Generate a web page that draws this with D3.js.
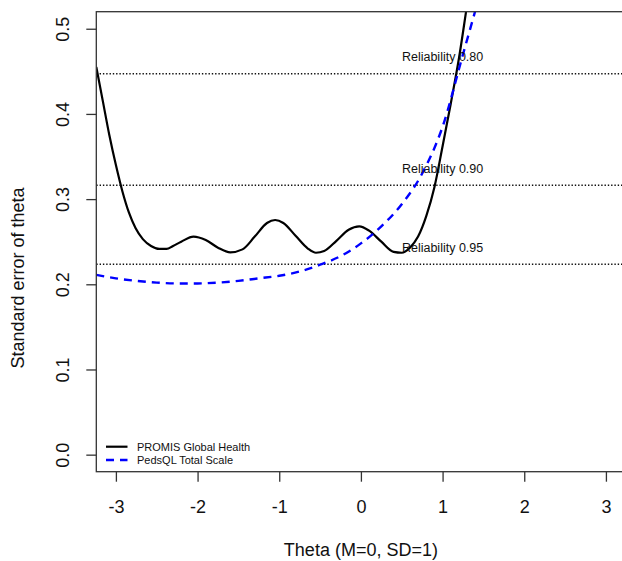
<!DOCTYPE html>
<html>
<head>
<meta charset="utf-8">
<script src="https://cdn.jsdelivr.net/npm/d3@7"></script>
<style>
  html, body { margin: 0; padding: 0; background: #fff; }
  svg { display: block; font-family: "Liberation Sans", Arial, sans-serif; }
</style>
</head>
<body>
<svg id="chart" width="622" height="561"></svg>
<script>
// ---- Data ----
const xTicks = [-3, -2, -1, 0, 1, 2, 3];
const yTicks = [0.0, 0.1, 0.2, 0.3, 0.4, 0.5];
const yTickLabels = ["0.0", "0.1", "0.2", "0.3", "0.4", "0.5"];

const promisTheta = [-3.24, -3.16, -3.08, -3.0, -2.92, -2.84, -2.76, -2.67, -2.57, -2.47, -2.38, -2.3, -2.2, -2.05, -1.9, -1.75, -1.6, -1.45, -1.3, -1.15, -1.05, -0.95, -0.8, -0.65, -0.55, -0.45, -0.3, -0.15, -0.02, 0.1, 0.25, 0.4, 0.5, 0.6, 0.7, 0.8, 0.9, 1.0, 1.1, 1.2, 1.3, 1.4];
const promisSE    = [0.455, 0.415, 0.375, 0.340, 0.309, 0.284, 0.266, 0.253, 0.245, 0.2415, 0.2415, 0.245, 0.250, 0.256, 0.252, 0.243, 0.2375, 0.241, 0.256, 0.272, 0.2755, 0.272, 0.257, 0.242, 0.237, 0.239, 0.251, 0.264, 0.268, 0.263, 0.250, 0.238, 0.237, 0.243, 0.256, 0.280, 0.314, 0.362, 0.412, 0.465, 0.528, 0.59];

const pedsTheta = [-3.24, -3.0, -2.75, -2.5, -2.25, -2.0, -1.75, -1.5, -1.25, -1.0, -0.75, -0.5, -0.25, 0.0, 0.25, 0.5, 0.75, 1.0, 1.25, 1.5];
const pedsSE    = [0.211, 0.207, 0.204, 0.202, 0.201, 0.201, 0.202, 0.204, 0.207, 0.210, 0.215, 0.223, 0.233, 0.248, 0.268, 0.294, 0.330, 0.385, 0.470, 0.555];

const reliabilities = [0.80, 0.90, 0.95];
const reliabilityLabels = ["Reliability 0.80", "Reliability 0.90", "Reliability 0.95"];

const seriesNames = ["PROMIS Global Health", "PedsQL Total Scale"];

// ---- Layout ----
const svg = d3.select("#chart");
const pLeft = 96.3, pTop = 11.7, pBottom = 471.7;
const pxPerUnit = 81.67;
const pRight = pLeft + 6.48 * pxPerUnit;

const x = d3.scaleLinear().domain([-3.24, 3.24]).range([pLeft, pRight]);
const y = d3.scaleLinear().domain([-0.02, 0.52]).range([pBottom, pTop]);

const axisColor = "#333";

// clip
svg.append("defs").append("clipPath").attr("id", "plotclip")
  .append("rect").attr("x", pLeft).attr("y", pTop).attr("width", pRight - pLeft).attr("height", pBottom - pTop);

// reliability lines
const relSE = reliabilities.map(r => Math.sqrt(1 - r));
const g = svg.append("g").attr("clip-path", "url(#plotclip)");
g.selectAll("line.rel").data(relSE).enter().append("line")
  .attr("x1", pLeft).attr("x2", pRight)
  .attr("y1", d => y(d)).attr("y2", d => y(d))
  .attr("stroke", "#111").attr("stroke-width", 1.4)
  .attr("stroke-dasharray", "1.4,1.9");

// curves
const line = d3.line().x(d => x(d[0])).y(d => y(d[1])).curve(d3.curveMonotoneX);
const promis = promisTheta.map((t, i) => [t, promisSE[i]]);
const peds = pedsTheta.map((t, i) => [t, pedsSE[i]]);

g.append("path").datum(promis).attr("d", line)
  .attr("fill", "none").attr("stroke", "#000").attr("stroke-width", 2.2);
g.append("path").datum(peds).attr("d", line)
  .attr("fill", "none").attr("stroke", "#0000ff").attr("stroke-width", 2.4)
  .attr("stroke-dasharray", "8,6");

// reliability labels
svg.selectAll("text.rel").data(relSE).enter().append("text")
  .attr("x", x(1)).attr("y", d => y(d + 0.02))
  .attr("dy", "0.35em")
  .attr("text-anchor", "middle")
  .attr("font-size", 12.5)
  .attr("fill", "#111")
  .text((d, i) => reliabilityLabels[i]);

// box
svg.append("rect").attr("x", pLeft).attr("y", pTop)
  .attr("width", pRight - pLeft).attr("height", pBottom - pTop)
  .attr("fill", "none").attr("stroke", axisColor).attr("stroke-width", 1.3);

// x axis
const xAxis = d3.axisBottom(x).tickValues(xTicks).tickSize(10).tickPadding(19)
  .tickFormat(d3.format("d"));
const xg = svg.append("g").attr("transform", `translate(0,${pBottom})`).call(xAxis);
xg.select(".domain").remove();
xg.selectAll(".tick line").attr("stroke", axisColor).attr("stroke-width", 1.3);
xg.selectAll(".tick text").attr("font-size", 18).attr("fill", "#111")
  .attr("font-family", "Liberation Sans, Arial, sans-serif")
  .text(d => d < 0 ? "-" + Math.abs(d) : String(d));

// y axis
const yAxis = d3.axisLeft(y).tickValues(yTicks).tickSize(10).tickPadding(0)
  .tickFormat((d, i) => yTickLabels[i]);
const yg = svg.append("g").attr("transform", `translate(${pLeft},0)`).call(yAxis);
yg.select(".domain").remove();
yg.selectAll(".tick line").attr("stroke", axisColor).attr("stroke-width", 1.3);
yg.selectAll(".tick text")
  .attr("font-size", 18).attr("fill", "#111")
  .attr("font-family", "Liberation Sans, Arial, sans-serif")
  .attr("x", null).attr("dy", null)
  .attr("text-anchor", "middle")
  .attr("transform", "translate(-33.6,0) rotate(-90)")
  .attr("dominant-baseline", "central");

// axis titles
svg.append("text").attr("x", x(0)).attr("y", 556)
  .attr("text-anchor", "middle").attr("font-size", 18).attr("fill", "#111")
  .text("Theta (M=0, SD=1)");
svg.append("text")
  .attr("transform", `translate(24,278) rotate(-90)`)
  .attr("text-anchor", "middle").attr("font-size", 18).attr("fill", "#111")
  .text("Standard error of theta");

// legend
const legY = [446.7, 460];
const legStyles = [
  { color: "#000", dash: null, width: 2.2 },
  { color: "#0000ff", dash: "8,6", width: 2.4 }
];
seriesNames.forEach((name, i) => {
  svg.append("line").attr("x1", 106).attr("x2", 127.5)
    .attr("y1", legY[i]).attr("y2", legY[i])
    .attr("stroke", legStyles[i].color).attr("stroke-width", legStyles[i].width)
    .attr("stroke-dasharray", legStyles[i].dash);
  svg.append("text").attr("x", 137).attr("y", legY[i]).attr("dy", "0.35em")
    .attr("font-size", 11).attr("fill", "#111").text(name);
});
</script>
</body>
</html>
